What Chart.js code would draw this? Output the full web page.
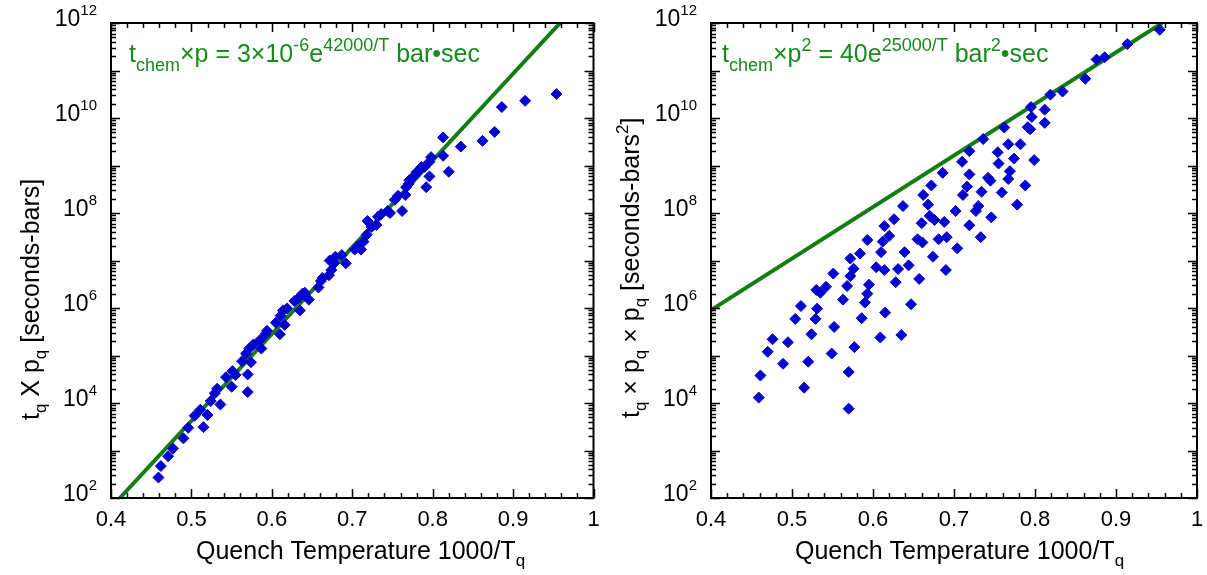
<!DOCTYPE html>
<html>
<head>
<meta charset="utf-8">
<script src="https://cdn.jsdelivr.net/npm/chart.js@4"></script>
<style>
  html, body { margin: 0; padding: 0; background: #fff; }
  #wrap { position: relative; width: 1207px; height: 575px; }
  canvas { position: absolute; top: 0; }
</style>
</head>
<body>
<div id="wrap">
  <canvas id="leftChart" width="600" height="575" style="left:0"></canvas>
  <canvas id="rightChart" width="607" height="575" style="left:600px"></canvas>
</div>
<script>
// ---- data ----
// left panel: t_q x p_q
const leftX = [0.459, 0.462, 0.471, 0.477, 0.490, 0.496, 0.504, 0.511, 0.515, 0.520,
  0.524, 0.529, 0.532, 0.536, 0.543, 0.550, 0.551, 0.555, 0.570, 0.570,
  0.563, 0.568, 0.574, 0.572, 0.577, 0.585, 0.587, 0.592, 0.594, 0.605,
  0.610, 0.611, 0.614, 0.616, 0.619, 0.628, 0.635, 0.638, 0.646, 0.658,
  0.661, 0.663, 0.671, 0.674, 0.677, 0.672, 0.641, 0.679, 0.687, 0.692,
  0.703, 0.707, 0.711, 0.714, 0.718, 0.719, 0.724, 0.730, 0.732, 0.736,
  0.744, 0.747, 0.753, 0.757, 0.762, 0.766, 0.767, 0.770, 0.771, 0.773,
  0.777, 0.780, 0.784, 0.786, 0.790, 0.792, 0.796, 0.796, 0.798, 0.813,
  0.813, 0.820, 0.835, 0.862, 0.877, 0.886, 0.915, 0.954, 0.633];
const leftY = [2.7e2, 4.7e2, 7.6e2, 1.1e3, 1.8e3, 3.0e3, 5.4e3, 7.2e3, 3.1e3, 5.6e3,
  1.1e4, 1.6e4, 2.0e4, 9.3e3, 3.5e4, 2.2e4, 4.7e4, 3.9e4, 1.7e4, 4.0e4,
  7.6e4, 1.1e5, 7.2e4, 1.4e5, 1.7e5, 2.1e5, 1.4e5, 2.8e5, 3.3e5, 4.9e5,
  2.8e5, 6.9e5, 8.9e5, 4.4e5, 9.8e5, 1.4e6, 8.9e5, 2.0e6, 1.5e6, 2.7e6,
  3.7e6, 4.3e6, 4.9e6, 6.3e6, 8.7e6, 1.0e7, 2.1e6, 1.2e7, 1.3e7, 8.7e6,
  1.7e7, 2.0e7, 1.7e7, 2.5e7, 3.5e7, 6.8e7, 5.1e7, 5.6e7, 8.3e7, 9.5e7,
  1.1e8, 1.0e8, 1.9e8, 2.3e8, 1.1e8, 2.4e8, 3.5e8, 4.1e8, 4.9e8, 5.1e8,
  6.0e8, 7.2e8, 8.1e8, 9.3e8, 9.3e8, 3.5e8, 5.9e8, 1.2e9, 1.5e9, 3.9e9,
  1.6e9, 7.4e8, 2.5e9, 3.3e9, 5.1e9, 1.7e10, 2.3e10, 3.2e10, 1.6e6];
const leftFitX = [0.411, 0.9585];
const leftFitY = [1e2, 1e12];

// right panel: t_q x p_q x p_q
const rightX = [0.459, 0.461, 0.489, 0.515, 0.520, 0.570, 0.570, 0.470, 0.476, 0.495,
  0.504, 0.511, 0.524, 0.529, 0.531, 0.530, 0.535, 0.542, 0.549, 0.551,
  0.552, 0.563, 0.568, 0.572, 0.572, 0.576, 0.577, 0.584, 0.586, 0.590,
  0.593, 0.595, 0.593, 0.604, 0.609, 0.610, 0.612, 0.614, 0.615, 0.614,
  0.620, 0.626, 0.628, 0.631, 0.635, 0.637, 0.639, 0.644, 0.647, 0.655,
  0.657, 0.660, 0.661, 0.662, 0.668, 0.672, 0.670, 0.676, 0.674, 0.681,
  0.688, 0.691, 0.690, 0.702, 0.704, 0.711, 0.716, 0.719, 0.727, 0.730,
  0.734, 0.733, 0.746, 0.745, 0.759, 0.767, 0.778, 0.788, 0.686, 0.710,
  0.719, 0.719, 0.736, 0.742, 0.754, 0.755, 0.762, 0.767, 0.769, 0.774,
  0.782, 0.791, 0.794, 0.795, 0.796, 0.799, 0.812, 0.812, 0.819, 0.834,
  0.862, 0.876, 0.886, 0.914, 0.954];
const rightY = [1.3e4, 3.8e4, 6.7e4, 2.1e4, 7.4e4, 4.5e4, 7.6e3, 1.2e5, 2.2e5, 1.9e5,
  5.9e5, 1.1e6, 2.8e5, 5.9e5, 9.7e5, 2.4e6, 2.1e6, 2.8e6, 1.1e5, 5.3e6,
  4.0e5, 1.5e6, 2.9e6, 4.7e6, 1.1e7, 6.7e6, 1.5e5, 1.4e7, 6.1e5, 1.3e6,
  2.0e6, 3.1e6, 2.7e7, 7.2e6, 2.4e5, 1.5e7, 2.5e7, 5.3e7, 8.0e5, 6.3e6,
  3.3e7, 7.4e7, 3.5e6, 6.6e6, 2.7e5, 1.4e8, 1.5e7, 7.9e6, 1.2e6, 2.8e7,
  4.1e6, 6.1e7, 2.4e7, 2.4e8, 1.5e8, 3.8e8, 8.7e7, 7.1e7, 1.2e7, 2.8e7,
  6.5e7, 3.1e7, 6.3e6, 1.1e8, 1.8e7, 2.4e8, 3.6e8, 5.5e7, 1.1e8, 1.4e8,
  2.8e8, 3.1e7, 8.1e7, 4.8e8, 2.7e8, 5.2e8, 1.5e8, 3.8e8, 7.0e8, 1.2e9,
  6.5e8, 2.0e9, 3.6e9, 5.5e8, 1.9e9, 1.1e9, 6.3e9, 2.8e9, 7.6e8, 1.4e9,
  2.8e9, 6.4e9, 5.8e9, 1.7e10, 1.05e10, 1.3e9, 1.5e10, 7.9e9, 3.1e10, 3.6e10,
  6.7e10, 1.7e11, 1.9e11, 3.6e11, 7.2e11];
const rightFitX = [0.4, 0.957];
const rightFitY = [9e5, 1e12];

// axes
const xTickValues = [0.4, 0.5, 0.6, 0.7, 0.8, 0.9, 1.0];
const xTickLabels = ['0.4', '0.5', '0.6', '0.7', '0.8', '0.9', '1'];
const yTickValues = [1e2, 1e4, 1e6, 1e8, 1e10, 1e12];
const yTickExps = ['2', '4', '6', '8', '10', '12'];

const FONT = '"Liberation Sans", Arial, Helvetica, sans-serif';
const GREEN_TEXT = '#168a1c';
const GREEN_LINE = '#137d13';
const BLUE = '#0505d0';

// draws a run of text pieces, each with its own size and baseline shift
function drawRich(ctx, x, y, parts, color) {
  ctx.fillStyle = color;
  ctx.textAlign = 'left';
  ctx.textBaseline = 'alphabetic';
  let cx = x;
  parts.forEach(p => {
    ctx.font = p.s + 'px ' + FONT;
    ctx.fillText(p.t, cx, y + (p.dy || 0));
    cx += ctx.measureText(p.t).width;
  });
}

const framePlugin = {
  id: 'frame',
  afterDraw(chart, args, o) {
    const { ctx, chartArea: a, scales: { x, y } } = chart;
    ctx.save();
    ctx.strokeStyle = '#000';
    ctx.lineWidth = 1.5;
    ctx.beginPath();
    // x ticks, top and bottom, pointing in
    for (let i = 20; i <= 50; i++) {
      const px = Math.round(x.getPixelForValue(i / 50)) + 0.5;
      const len = i % 5 === 0 ? 9 : 5;
      ctx.moveTo(px, a.bottom); ctx.lineTo(px, a.bottom - len);
      ctx.moveTo(px, a.top); ctx.lineTo(px, a.top + len);
    }
    // y ticks, left and right
    for (let d = 2; d <= 12; d++) {
      for (let m = 1; m <= (d === 12 ? 1 : 9); m++) {
        const py = Math.round(y.getPixelForValue(m * Math.pow(10, d))) + 0.5;
        const len = m === 1 ? 9 : 5;
        ctx.moveTo(a.left, py); ctx.lineTo(a.left + len, py);
        ctx.moveTo(a.right, py); ctx.lineTo(a.right - len, py);
      }
    }
    ctx.stroke();
    ctx.lineWidth = 2;
    ctx.strokeRect(a.left, a.top, a.width, a.height);

    // x tick labels
    ctx.fillStyle = '#000';
    ctx.font = '22px ' + FONT;
    ctx.textAlign = 'center';
    ctx.textBaseline = 'alphabetic';
    xTickValues.forEach((v, i) => {
      ctx.fillText(xTickLabels[i], x.getPixelForValue(v), a.bottom + 28);
    });
    // y tick labels: 10 with superscript exponent
    yTickValues.forEach((v, i) => {
      const py = y.getPixelForValue(v);
      ctx.font = '15px ' + FONT;
      const ew = ctx.measureText(yTickExps[i]).width;
      ctx.textAlign = 'right';
      ctx.fillText(yTickExps[i], a.left - 14, py - 8);
      ctx.font = '23px ' + FONT;
      ctx.fillText('10', a.left - 14 - ew, py + 3);
    });

    // x title
    drawRich(ctx, o.xTitleX, 559, [
      { t: 'Quench Temperature 1000/T', s: 25 },
      { t: 'q', s: 17, dy: 7 }
    ], '#000');

    // y title, rotated
    ctx.save();
    ctx.translate(39, o.yTitleStart);
    ctx.rotate(-Math.PI / 2);
    drawRich(ctx, 0, 0, o.yTitle, '#000');
    ctx.restore();

    // fit annotation
    drawRich(ctx, o.noteX, 62, o.note, GREEN_TEXT);
    ctx.restore();
  }
};

function makeChart(id, xs, ys, fitX, fitY, opts) {
  const ctx = document.getElementById(id).getContext('2d');
  return new Chart(ctx, {
    type: 'scatter',
    data: {
      datasets: [{
        label: 'data',
        data: xs.map((v, i) => ({ x: v, y: ys[i] })),
        pointStyle: 'rectRot',
        pointRadius: 5.5,
        pointBackgroundColor: BLUE,
        pointBorderColor: BLUE,
        pointBorderWidth: 1,
        order: 0
      }, {
        label: 'fit',
        data: fitX.map((v, i) => ({ x: v, y: fitY[i] })),
        showLine: true,
        borderColor: GREEN_LINE,
        borderWidth: 4,
        pointRadius: 0,
        order: 1
      }]
    },
    options: {
      responsive: false,
      animation: false,
      devicePixelRatio: 1,
      events: [],
      layout: { padding: opts.padding },
      plugins: { legend: { display: false }, tooltip: { enabled: false }, frame: opts },
      scales: {
        x: { type: 'linear', min: 0.4, max: 1, display: false },
        y: { type: 'logarithmic', min: 1e2, max: 1e12, display: false }
      }
    },
    plugins: [framePlugin]
  });
}

makeChart('leftChart', leftX, leftY, leftFitX, leftFitY, {
  padding: { left: 111, right: 3, top: 23, bottom: 77 },
  xTitleX: 196,
  yTitleStart: 420,
  yTitle: [
    { t: 't', s: 25 }, { t: 'q', s: 17, dy: 7 },
    { t: ' X p', s: 25 }, { t: 'q', s: 17, dy: 7 },
    { t: ' [seconds-bars]', s: 25 }
  ],
  noteX: 129,
  note: [
    { t: 't', s: 25 }, { t: 'chem', s: 18, dy: 9 },
    { t: '×p = 3×10', s: 25 }, { t: '-6', s: 18, dy: -11 },
    { t: 'e', s: 25 }, { t: '42000/T', s: 18, dy: -11 },
    { t: ' bar•sec', s: 25 }
  ]
});

makeChart('rightChart', rightX, rightY, rightFitX, rightFitY, {
  padding: { left: 111, right: 10, top: 23, bottom: 77 },
  xTitleX: 195,
  yTitleStart: 418,
  yTitle: [
    { t: 't', s: 25 }, { t: 'q', s: 17, dy: 7 },
    { t: ' × p', s: 25 }, { t: 'q', s: 17, dy: 7 },
    { t: ' × p', s: 25 }, { t: 'q', s: 17, dy: 7 },
    { t: ' [seconds-bars', s: 25 }, { t: '2', s: 17, dy: -11 },
    { t: ']', s: 25 }
  ],
  noteX: 122,
  note: [
    { t: 't', s: 25 }, { t: 'chem', s: 18, dy: 9 },
    { t: '×p', s: 25 }, { t: '2', s: 18, dy: -11 },
    { t: ' = 40e', s: 25 }, { t: '25000/T', s: 18, dy: -11 },
    { t: ' bar', s: 25 }, { t: '2', s: 18, dy: -11 },
    { t: '•sec', s: 25 }
  ]
});
</script>
</body>
</html>
